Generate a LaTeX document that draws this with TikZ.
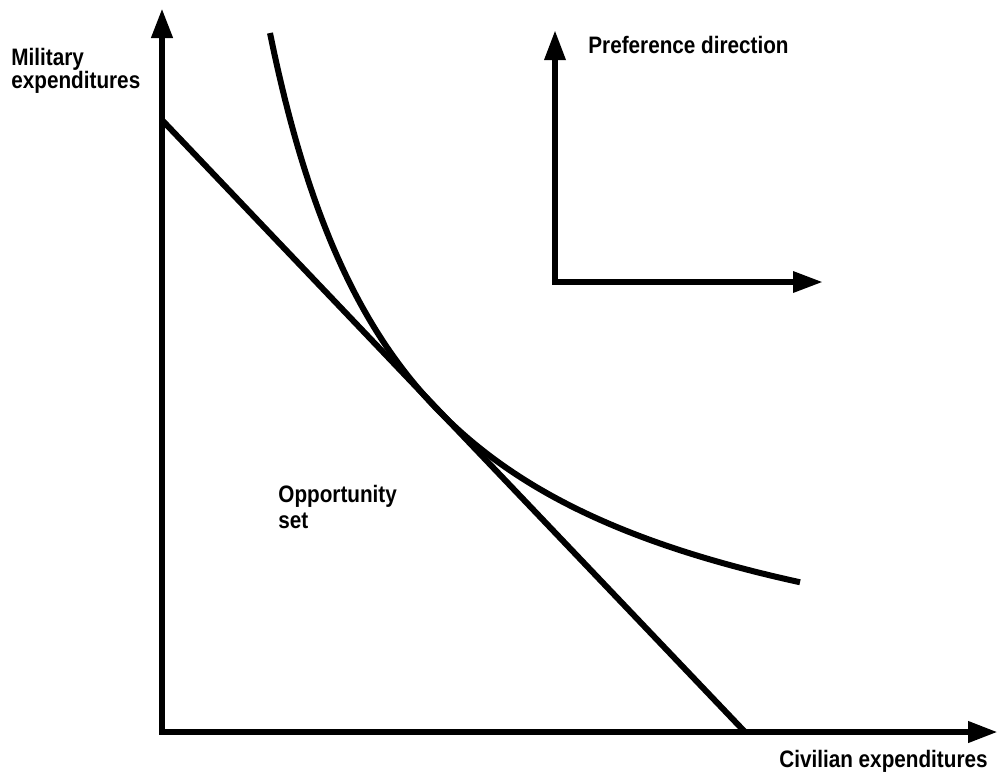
\documentclass[tikz,border=0pt]{standalone}
\usepackage{fontspec}
\setmainfont{Liberation Sans}[FakeStretch=0.87]
\usetikzlibrary{arrows.meta}
\begin{document}
\begin{tikzpicture}[x=0.5pt,y=-0.5pt,
  axisline/.style={line width=3.4pt,line join=miter},
  curveline/.style={line width=3pt},
  lbl/.style={inner sep=0pt,font=\fontsize{11.9pt}{13pt}\selectfont\bfseries}]
\useasboundingbox (0,0) rectangle (1000,778);
% coordinates
\coordinate (O) at (162,732);
\coordinate (ytip) at (162,8);
\coordinate (xtip) at (998,732);
\coordinate (B1) at (162,120);
\coordinate (B2) at (745,732);
\coordinate (P) at (555,282);
\coordinate (ptop) at (555,30);
\coordinate (pright) at (823,282);
% axes
\draw[axisline,{Triangle[length=15pt,width=10pt]}-{Triangle[length=15pt,width=10pt]}] (ytip) -- (O) -- (xtip);
% budget line
\draw[curveline] (B1) -- (B2);
% indifference curve
\draw[curveline] plot[domain=270:800,samples=120,smooth] ({\x},{729.8-992.2/((\x-127.6)/100)});
% preference direction
\draw[axisline,line width=3.1pt,{Triangle[length=15pt,width=10pt]}-{Triangle[length=15pt,width=10pt]}] (ptop) -- (P) -- (pright);
% labels
\node[lbl,anchor=base west] (mil1) at (11,65) {Military};
\node[lbl,anchor=base west] (mil2) at (11,88) {expenditures};
\node[lbl,anchor=base west] (pref) at (588,53) {Preference direction};
\node[lbl,anchor=base east] (civ) at (988,767) {Civilian expenditures};
\node[lbl,anchor=base west] (opp1) at (278,502) {Opportunity};
\node[lbl,anchor=base west] (opp2) at (278,528) {set};
\end{tikzpicture}
\end{document}
